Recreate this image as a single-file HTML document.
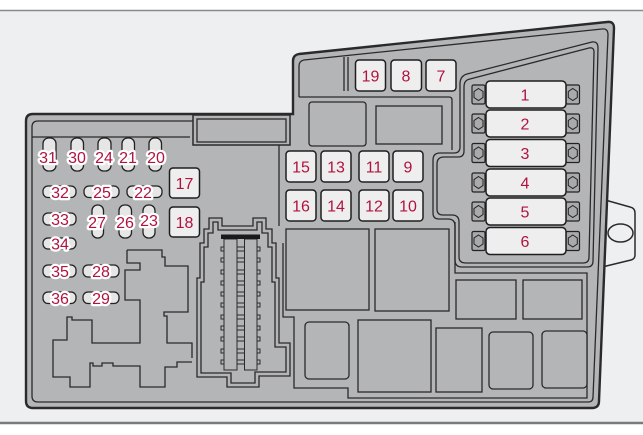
<!DOCTYPE html>
<html><head><meta charset="utf-8"><style>
html,body{margin:0;padding:0;background:#fff;}
svg{display:block;}
text{font-family:"Liberation Sans",sans-serif;font-size:16px;fill:#b0133f;text-anchor:middle;}
.h{stroke:#fff;stroke-width:4.5;stroke-linejoin:round;paint-order:stroke;}
.ln{fill:none;stroke:#2a2a2a;stroke-width:1.3;}
.rl{fill:#b4b5b7;stroke:#2a2a2a;stroke-width:1.3;}
.bx{fill:#eeeeee;stroke:#1e1e1e;stroke-width:1.5;}
.pl{fill:#e6e6e6;stroke:#222;stroke-width:1.3;}
.tm{fill:#a9aaac;stroke:#222;stroke-width:1.2;}
</style></head><body>
<svg width="643" height="435" viewBox="0 0 643 435" xmlns="http://www.w3.org/2000/svg">
<rect x="0" y="0" width="643" height="435" fill="#fff"/>
<rect x="0" y="10" width="643" height="412" fill="#eeeff0"/>
<line x1="0" y1="10.5" x2="643" y2="10.5" stroke="#8a8a8a" stroke-width="1.5"/>
<line x1="0" y1="423" x2="643" y2="423" stroke="#7a7a7a" stroke-width="2.5"/>

<!-- right tab -->
<path d="M598,198 L630,207 Q635,208 635,213 L635,255 Q635,259 631,260 L598,268 Z" fill="#eeeff0" stroke="#2a2a2a" stroke-width="1.5"/>

<!-- housing -->
<path d="M26,121 Q26,114 33,114 L293,114 L293,61 Q293,55 299,54 L607,22 Q614,21 614,28 L599,401 Q599,408 592,408 L33,408 Q26,408 26,401 Z" fill="#b4b5b7" stroke="#2a2a2a" stroke-width="2.4"/>
<ellipse cx="620.5" cy="233" rx="12.5" ry="9" fill="#eeeff0" stroke="#2a2a2a" stroke-width="1.5"/>
<path class="ln" d="M193,121 L38,121 Q32,121 32,127 L32,396 Q32,402 38,402 L588,402 Q593,402 593,397 L608,35 Q608,28 602,29 L304,60 Q299,61 299,66 L299,97"/>

<!-- left top band -->
<line class="ln" x1="32" y1="137" x2="190" y2="137"/>
<rect x="193" y="115" width="97" height="30" fill="#b4b5b7" stroke="#2a2a2a" stroke-width="1.5"/>
<rect class="ln" x="197" y="119" width="89" height="23"/>
<line class="ln" x1="279" y1="145" x2="279" y2="226"/>

<!-- top strip right -->
<path class="ln" d="M299,97 L449,97 Q452,97 452,100 L452,150"/>
<line class="ln" x1="344" y1="57" x2="344" y2="91"/>
<line class="ln" x1="348" y1="57" x2="348" y2="91"/>

<!-- fuse block region -->
<path class="ln" d="M460,84 Q460,76 467,74 L592,42 Q598,41 598,48 L593,261 Q593,267 587,267 L462,267 Q455,267 455,260 L455,226 Q455,219 448,219 L439,219 Q433,219 433,213 L433,160 Q433,153 440,153 L454,153 Q460,153 460,147 Z"/>
<path class="ln" d="M464,87 Q464,80 470,79 L589,48 Q594,47 594,52 L589,257 Q589,263 583,263 L466,263 Q459,263 459,257 L459,222 Q459,215 452,215 L443,215 Q437,215 437,209 L437,164 Q437,157 444,157 L458,157 Q464,157 464,151 Z"/>

<!-- relay bay boundary -->
<path class="ln" d="M455,222 L455,273 L587,273 L587,398 L348,398 L348,388 L294,388 L294,317 L283,317 L283,243"/>

<!-- relays -->
<rect class="rl" x="309" y="102" width="57" height="44" rx="3"/>
<rect class="rl" x="376" y="106" width="66" height="38"/>
<rect class="rl" x="286" y="229" width="83" height="81"/>
<rect class="rl" x="375" y="229" width="74" height="82"/>
<rect class="rl" x="305" y="322" width="44" height="57" rx="4"/>
<rect class="rl" x="358" y="320" width="73" height="72"/>
<rect class="rl" x="436" y="328" width="46" height="64"/>
<rect class="rl" x="489" y="332" width="44" height="57" rx="4"/>
<rect class="rl" x="542" y="331" width="45" height="57" rx="4"/>
<rect class="rl" x="456" y="280" width="60" height="39"/>
<rect class="rl" x="523" y="280" width="59" height="39"/>

<!-- connector -->
<polygon class="ln" points="197,377 197,278 200,278 200,243 204,243 204,229 209,229 209,218 222,218 222,226 253,226 253,218 266,218 266,229 272,229 272,243 276,243 276,278 279,278 279,343 290,343 290,376 259,376 259,387 227,387 227,377"/>
<polygon class="ln" points="201,373 201,282 204,282 204,247 208,247 208,233 213,233 213,222 218,222 218,230 257,230 257,222 262,222 262,233 268,233 268,247 272,247 272,282 275,282 275,347 286,347 286,372 255,372 255,383 231,383 231,373"/>
<g fill="#b4b5b7" stroke="#2a2a2a" stroke-width="1">
<rect x="224" y="239" width="13" height="131"/>
<rect x="244.5" y="239" width="12.5" height="131"/>
<rect x="221" y="247" width="3" height="4"/><rect x="221" y="258" width="3" height="4"/><rect x="221" y="270" width="3" height="4"/><rect x="221" y="281" width="3" height="4"/><rect x="221" y="292" width="3" height="4"/><rect x="221" y="303" width="3" height="4"/><rect x="221" y="315" width="3" height="4"/><rect x="221" y="326" width="3" height="4"/><rect x="221" y="337" width="3" height="4"/><rect x="221" y="349" width="3" height="4"/><rect x="221" y="360" width="3" height="4"/>
<rect x="257" y="247" width="3" height="4"/><rect x="257" y="258" width="3" height="4"/><rect x="257" y="270" width="3" height="4"/><rect x="257" y="281" width="3" height="4"/><rect x="257" y="292" width="3" height="4"/><rect x="257" y="303" width="3" height="4"/><rect x="257" y="315" width="3" height="4"/><rect x="257" y="326" width="3" height="4"/><rect x="257" y="337" width="3" height="4"/><rect x="257" y="349" width="3" height="4"/><rect x="257" y="360" width="3" height="4"/>
<rect x="237" y="247" width="7.5" height="4"/><rect x="237" y="258" width="7.5" height="4"/><rect x="237" y="270" width="7.5" height="4"/><rect x="237" y="281" width="7.5" height="4"/><rect x="237" y="292" width="7.5" height="4"/><rect x="237" y="303" width="7.5" height="4"/><rect x="237" y="315" width="7.5" height="4"/><rect x="237" y="326" width="7.5" height="4"/><rect x="237" y="337" width="7.5" height="4"/><rect x="237" y="349" width="7.5" height="4"/><rect x="237" y="360" width="7.5" height="4"/>
</g>
<rect x="221" y="234.5" width="39" height="4.5" fill="#1a1a1a"/>

<!-- irregular left shape -->
<path class="ln" d="M127,250 L162,250 L162,257 L165,257 L165,266 L188,266 L188,312 L164,312 L164,316 L167,316 L167,343 L192,343 L192,358"/>
<path class="ln" d="M192,362 L177,362 L177,367 L165,367 L165,387 L140,387 L140,366 L113,366 L113,363 L102,363 L102,366 L93,366 L93,363 L90,363 L90,387 L70,387 L70,377 L53,377 L53,340 L67,340 L67,317 L72,317 L72,320 L92,320 L92,343 L140,343 L140,300 L125,300 L125,270 L140,270 L140,263 L127,263 L127,250"/>

<!-- small fuses (pills) -->
<rect class="pl" x="43" y="138" width="13" height="33" rx="5.5"/>
<rect class="pl" x="71" y="138" width="12.5" height="33" rx="5.5"/>
<rect class="pl" x="98" y="138" width="13" height="33" rx="5.5"/>
<rect class="pl" x="122" y="138" width="12.5" height="33" rx="5.5"/>
<rect class="pl" x="149" y="138" width="12.5" height="33" rx="5.5"/>
<rect class="pl" x="43" y="186" width="33" height="11.5" rx="5"/>
<rect class="pl" x="84" y="186" width="35" height="11.5" rx="5"/>
<rect class="pl" x="127" y="186" width="35" height="11.5" rx="5"/>
<rect class="pl" x="43" y="213" width="33" height="12" rx="5"/>
<rect class="pl" x="92" y="205" width="11.5" height="33" rx="5.5"/>
<rect class="pl" x="119" y="205" width="12.5" height="33" rx="5.5"/>
<rect class="pl" x="143" y="205" width="12" height="33" rx="5.5"/>
<rect class="pl" x="43" y="238" width="33" height="11" rx="5"/>
<rect class="pl" x="43" y="265" width="33" height="12" rx="5"/>
<rect class="pl" x="83" y="265" width="36" height="12" rx="5"/>
<rect class="pl" x="43" y="292" width="33" height="11.5" rx="5"/>
<rect class="pl" x="83" y="292" width="36" height="11.5" rx="5"/>

<!-- boxes -->
<rect class="bx" x="169.5" y="168" width="30" height="30" rx="3.5"/>
<rect class="bx" x="169.5" y="207" width="30" height="30" rx="3.5"/>
<rect class="bx" x="355.5" y="60" width="30" height="31" rx="3.5"/>
<rect class="bx" x="391" y="60" width="30.5" height="31" rx="3.5"/>
<rect class="bx" x="426" y="60" width="30" height="31" rx="3.5"/>
<rect class="bx" x="286" y="151" width="30" height="31" rx="3.5"/>
<rect class="bx" x="321" y="151" width="30" height="31" rx="3.5"/>
<rect class="bx" x="359" y="151" width="30" height="31" rx="3.5"/>
<rect class="bx" x="393" y="151" width="30" height="31" rx="3.5"/>
<rect class="bx" x="286" y="190" width="30" height="31" rx="3.5"/>
<rect class="bx" x="321" y="190" width="30" height="31" rx="3.5"/>
<rect class="bx" x="359" y="190" width="30" height="31" rx="3.5"/>
<rect class="bx" x="393" y="190" width="30" height="31" rx="3.5"/>

<!-- fuse block 1-6 -->
<g>
<rect class="tm" x="472" y="85" width="13" height="19" rx="1.5"/><rect class="tm" x="566" y="85" width="13.5" height="19" rx="1.5"/>
<rect class="tm" x="472" y="114" width="13" height="19" rx="1.5"/><rect class="tm" x="566" y="114" width="13.5" height="19" rx="1.5"/>
<rect class="tm" x="472" y="143.5" width="13" height="19" rx="1.5"/><rect class="tm" x="566" y="143.5" width="13.5" height="19" rx="1.5"/>
<rect class="tm" x="472" y="173" width="13" height="19" rx="1.5"/><rect class="tm" x="566" y="173" width="13.5" height="19" rx="1.5"/>
<rect class="tm" x="472" y="202" width="13" height="19" rx="1.5"/><rect class="tm" x="566" y="202" width="13.5" height="19" rx="1.5"/>
<rect class="tm" x="472" y="231.5" width="13" height="19" rx="1.5"/><rect class="tm" x="566" y="231.5" width="13.5" height="19" rx="1.5"/>
</g>
<g fill="none" stroke="#222" stroke-width="1">
<polygon points="478.5,88.5 483,91.5 483,97.5 478.5,100.5 474,97.5 474,91.5"/><polygon points="572.8,88.5 577.3,91.5 577.3,97.5 572.8,100.5 568.3,97.5 568.3,91.5"/>
<polygon points="478.5,117.5 483,120.5 483,126.5 478.5,129.5 474,126.5 474,120.5"/><polygon points="572.8,117.5 577.3,120.5 577.3,126.5 572.8,129.5 568.3,126.5 568.3,120.5"/>
<polygon points="478.5,147 483,150 483,156 478.5,159 474,156 474,150"/><polygon points="572.8,147 577.3,150 577.3,156 572.8,159 568.3,156 568.3,150"/>
<polygon points="478.5,176.5 483,179.5 483,185.5 478.5,188.5 474,185.5 474,179.5"/><polygon points="572.8,176.5 577.3,179.5 577.3,185.5 572.8,188.5 568.3,185.5 568.3,179.5"/>
<polygon points="478.5,205.5 483,208.5 483,214.5 478.5,217.5 474,214.5 474,208.5"/><polygon points="572.8,205.5 577.3,208.5 577.3,214.5 572.8,217.5 568.3,214.5 568.3,208.5"/>
<polygon points="478.5,235 483,238 483,244 478.5,247 474,244 474,238"/><polygon points="572.8,235 577.3,238 577.3,244 572.8,247 568.3,244 568.3,238"/>
</g>
<rect class="bx" x="486" y="81" width="80" height="27" rx="4"/>
<rect class="bx" x="486" y="110" width="80" height="27" rx="4"/>
<rect class="bx" x="486" y="139.5" width="80" height="27" rx="4"/>
<rect class="bx" x="486" y="169" width="80" height="27" rx="4"/>
<rect class="bx" x="486" y="198" width="80" height="27" rx="4"/>
<rect class="bx" x="486" y="227.5" width="80" height="27" rx="4"/>

<!-- labels -->
<text x="525" y="100.5">1</text>
<text x="525" y="129.5">2</text>
<text x="525" y="159">3</text>
<text x="525" y="188.5">4</text>
<text x="525" y="217.5">5</text>
<text x="525" y="247">6</text>
<text x="370.5" y="81.5">19</text>
<text x="406" y="81.5">8</text>
<text x="441" y="81.5">7</text>
<text x="301" y="172.5">15</text>
<text x="336" y="172.5">13</text>
<text x="374" y="172.5">11</text>
<text x="408" y="172.5">9</text>
<text x="301" y="211.5">16</text>
<text x="336" y="211.5">14</text>
<text x="374" y="211.5">12</text>
<text x="408" y="211.5">10</text>
<text x="184.5" y="189">17</text>
<text x="184.5" y="228">18</text>

<text class="h" x="48" y="163">31</text>
<text class="h" x="77" y="163">30</text>
<text class="h" x="104" y="163">24</text>
<text class="h" x="128" y="163">21</text>
<text class="h" x="156" y="163">20</text>
<text class="h" x="60" y="198">32</text>
<text class="h" x="102" y="198">25</text>
<text class="h" x="143" y="198">22</text>
<text class="h" x="60" y="225">33</text>
<text class="h" x="97" y="228">27</text>
<text class="h" x="125" y="228">26</text>
<text class="h" x="149" y="226">23</text>
<text class="h" x="60" y="249.5">34</text>
<text class="h" x="60" y="277">35</text>
<text class="h" x="101" y="277">28</text>
<text class="h" x="60" y="304">36</text>
<text class="h" x="101" y="304">29</text>
</svg>
</body></html>
